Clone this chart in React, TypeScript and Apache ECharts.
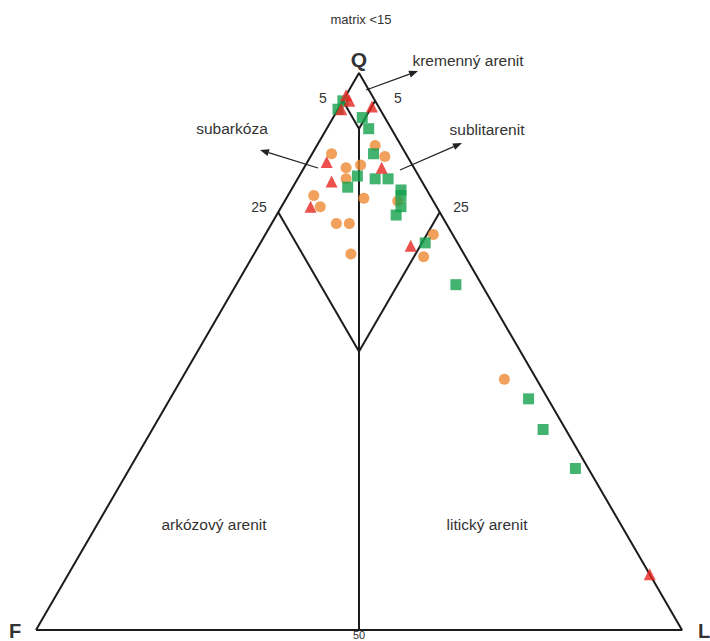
import React, { useEffect, useRef } from "react";
import * as echarts from "echarts";

// Ternary composition [Q, F, L] in percent
const triangleSamples: number[][] = [
  [96, 4, 0], [95, 4, 1], [93.5, 6, 0.5], [94, 1, 5], [83, 5, 12],
  [84, 13, 3], [80.5, 14, 5.5], [76, 19.5, 4.5], [69, 7.5, 23.5], [10, 0, 90],
];
const circleSamples: number[][] = [
  [87, 4, 9], [85, 3.5, 11.5], [85.5, 11.5, 3], [83, 10.5, 6.5], [83.5, 8, 8.5],
  [81, 11.5, 7.5], [77.5, 10.5, 12], [78, 18, 4], [76, 18, 6], [73, 17, 10],
  [73, 15, 12], [67.5, 17.5, 15], [77, 5.5, 17.5], [71, 3, 26], [67, 6.5, 26.5],
  [45, 5, 50],
];
const squareSamples: number[][] = [
  [95, 5, 0], [93.5, 6.5, 0], [92, 3.5, 4.5], [90, 3.5, 6.5], [85.5, 5, 9.5],
  [81.5, 9.5, 9], [81, 7, 12], [81, 5, 14], [79.5, 12, 8.5], [79, 4, 17],
  [78, 4.5, 17.5], [76, 5.5, 18.5], [74.5, 7, 18.5], [69.5, 5, 25.5], [62, 4, 34],
  [41.5, 3, 55.5], [36, 3.5, 60.5], [29, 2, 69],
];

// Field boundaries as ternary [Q, F, L]
const outline: number[][] = [[0, 100, 0], [100, 0, 0], [0, 0, 100], [0, 100, 0]];
const boundaryF5: number[][] = [[95, 5, 0], [90, 5, 5]];
const boundaryL5: number[][] = [[95, 0, 5], [90, 5, 5]];
const boundaryMid: number[][] = [[90, 5, 5], [0, 50, 50]];
const boundaryF25: number[][] = [[75, 25, 0], [50, 25, 25]];
const boundaryL25: number[][] = [[75, 0, 25], [50, 25, 25]];

const toXY = (p: number[]) => [p[2] + p[0] / 2, p[0]];

const LINE = "#1c1c1c";
const TXT = "#333";
const FONT = "Liberation Sans, Arial, sans-serif";

function arrow(x1: number, y1: number, x2: number, y2: number) {
  const ang = Math.atan2(y2 - y1, x2 - x1);
  const len = 9;
  const w = 3.5;
  const bx = x2 - len * Math.cos(ang);
  const by = y2 - len * Math.sin(ang);
  const px = -Math.sin(ang) * w;
  const py = Math.cos(ang) * w;
  return [
    {
      type: "line",
      shape: { x1, y1, x2: bx, y2: by },
      style: { stroke: "#222", lineWidth: 1.2 },
    },
    {
      type: "polygon",
      shape: { points: [[x2, y2], [bx + px, by + py], [bx - px, by - py]] },
      style: { fill: "#222" },
    },
  ];
}

function txt(text: string, x: number, y: number, size: number, bold = false) {
  return {
    type: "text",
    x,
    y,
    style: {
      text,
      fill: TXT,
      font: `${bold ? "bold " : ""}${size}px ${FONT}`,
      align: "center",
      verticalAlign: "middle",
    },
  };
}

export default function App() {
  const ref = useRef<HTMLDivElement>(null);
  useEffect(() => {
    if (!ref.current) return;
    const chart = echarts.init(ref.current, null, { renderer: "svg" });
    const lineSeries = (data: number[][]) => ({
      type: "line",
      data: data.map(toXY),
      symbol: "none",
      lineStyle: { color: LINE, width: 2 },
      silent: true,
      z: 1,
    });
    chart.setOption({
      animation: false,
      backgroundColor: "#ffffff",
      grid: { left: 36, right: 28, top: 73, bottom: 11 },
      xAxis: { type: "value", min: 0, max: 100, show: false },
      yAxis: { type: "value", min: 0, max: 100, show: false },
      series: [
        lineSeries(outline),
        lineSeries(boundaryF5),
        lineSeries(boundaryL5),
        lineSeries(boundaryMid),
        lineSeries(boundaryF25),
        lineSeries(boundaryL25),
        {
          type: "scatter",
          data: circleSamples.map(toXY),
          symbol: "circle",
          symbolSize: 11,
          itemStyle: { color: "#ee8a33" },
          z: 3,
        },
        {
          type: "scatter",
          data: squareSamples.map(toXY),
          symbol: "rect",
          symbolSize: 11,
          itemStyle: { color: "#14a04c" },
          z: 4,
        },
        {
          type: "scatter",
          data: triangleSamples.map(toXY),
          symbol: "triangle",
          symbolSize: 12,
          itemStyle: { color: "#e62520" },
          z: 5,
        },
      ],
      graphic: [
        txt("matrix <15", 361, 19, 13),
        txt("Q", 359, 59, 21, true),
        txt("F", 15, 631, 20, true),
        txt("L", 704, 631, 20, true),
        txt("5", 323, 98, 14),
        txt("5", 398, 98, 14),
        txt("25", 259, 207, 14),
        txt("25", 461, 207, 14),
        txt("50", 359, 635, 11),
        txt("kremenný arenit", 468, 60, 15.5),
        txt("subarkóza", 232, 128, 15.5),
        txt("sublitarenit", 487, 129, 15.5),
        txt("arkózový arenit", 214, 524, 15.5),
        txt("litický arenit", 487, 524, 15.5),
        ...arrow(366, 90, 418, 71),
        ...arrow(318, 168, 260, 150),
        ...arrow(400, 170, 462, 143),
      ],
    });
    return () => chart.dispose();
  }, []);
  return (
    <div
      ref={ref}
      style={{ position: "fixed", left: 0, top: 0, width: 710, height: 641, background: "#fff" }}
    />
  );
}
